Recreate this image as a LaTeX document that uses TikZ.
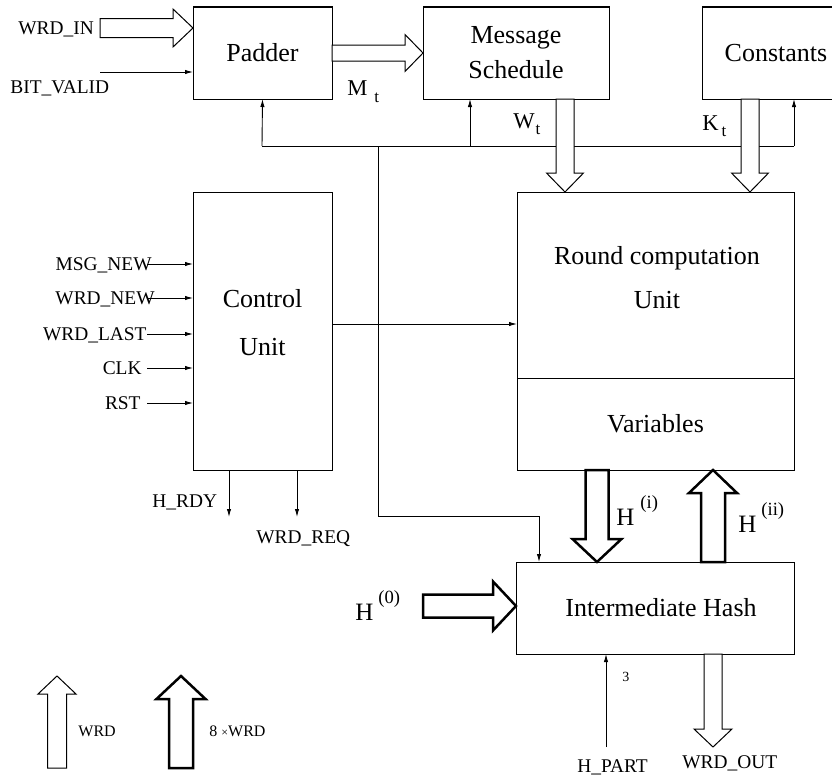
\documentclass[tikz,border=0pt]{standalone}
\usepackage{fontspec}
\setmainfont{Liberation Serif}
\usepackage{tikz}
\usetikzlibrary{arrows.meta,calc,positioning}
\tikzstyle{blk} = [draw, line width=0.5pt, rectangle, inner sep=0, outer sep=0]
\tikzstyle{big} = [font=\fontsize{13}{17.5}\selectfont]
\tikzstyle{sml} = [font=\fontsize{9.7}{11}\selectfont, inner sep=0]
\tikzstyle{lbl} = [font=\fontsize{11.3}{13}\selectfont, inner sep=0, anchor=base west]
\tikzstyle{hlbl} = [font=\fontsize{12.5}{14}\selectfont, inner sep=0, anchor=base west]
\tikzstyle{sig} = [line width=0.45pt, -{Latex[length=4pt,width=2.2pt]}]
\tikzstyle{bus} = [draw, fill=white, line width=0.5pt, line join=miter]
\tikzstyle{wbus} = [draw, fill=white, line width=1.25pt, line join=miter]
\newcommand{\vbus}[6]{%
  \draw[#1] let \p1=(#2), \p2=(#3), \p3=($(#3)!#6!(#2)$) in
    (\x1-#4,\y1) -- (\x1-#4,\y3) -- (\x1-#5,\y3) -- (\x1,\y2)
    -- (\x1+#5,\y3) -- (\x1+#4,\y3) -- (\x1+#4,\y1) -- cycle;}
\newcommand{\hbus}[6]{%
  \draw[#1] let \p1=(#2), \p2=(#3), \p3=($(#3)!#6!(#2)$) in
    (\x1,\y1+#4) -- (\x3,\y1+#4) -- (\x3,\y1+#5) -- (\x2,\y1)
    -- (\x3,\y1-#5) -- (\x3,\y1-#4) -- (\x1,\y1-#4) -- cycle;}
\newcommand{\lowidx}[2]{\hspace{#1}\raisebox{-3pt}{\fontsize{8.5}{9}\selectfont #2}}
\newcommand{\upidx}[2]{\hspace{#1}\raisebox{8.5pt}{\fontsize{9.3}{10}\selectfont #2}}

\begin{document}
\begin{tikzpicture}[x=0.5pt,y=-0.5pt]
\useasboundingbox (0,0) rectangle (832,776);

\node[blk, big, minimum width=69.5pt, minimum height=46pt] (padder) at (262.5,53) {Padder};
\node[blk, big, align=center, minimum width=93pt, minimum height=46pt] (msched) at (516,53) {Message\\Schedule};
\node[blk, big, minimum width=74pt, minimum height=46pt] (const) at (776,53) {Constants};
\node[blk, minimum width=69.5pt, minimum height=139pt] (ctrl) at (262.5,331) {};
\node[big, align=center, font=\fontsize{13}{24}\selectfont] (ctrltxt) at (262.5,323) {Control\\Unit};
\node[blk, minimum width=138.5pt, minimum height=93pt] (roundu) at (655.5,285) {};
\node[big, align=center, font=\fontsize{13}{22}\selectfont] (roundtxt) at (657,278) {Round computation\\Unit};
\node[blk, big, minimum width=138.5pt, minimum height=46pt, below=0pt of roundu] (vars) {Variables};
\node[blk, big, minimum width=139pt, minimum height=46pt] (ihash) at (655,608) {\hspace{6pt}Intermediate Hash};

\coordinate (busl) at (262,146);
\coordinate (busm) at (470,146);
\coordinate (busc) at (378,146);
\coordinate (busr) at (794,146);
\coordinate (ctl) at (539,516);
\draw[line width=0.45pt] (busl) -- (busr);
\draw[sig] (busl) -- (padder.south);
\draw[sig] (busm) -- (busm |- msched.south);
\draw[sig] (busr) -- (busr |- const.south);
\draw[sig] (busc) |- (ctl) -- (ctl |- ihash.north);
\draw[sig] ([yshift=3.5pt]ctrl.east) -- ([yshift=3.5pt]ctrl.east -| roundu.west);

\coordinate (wi) at (100,28);
\coordinate (bv) at (100,72);
\hbus{bus}{wi}{wi -| padder.west}{4.75pt}{9.5pt}{10pt}
\draw[sig] (bv) -- (bv -| padder.west);
\node[sml, anchor=base west] (wrdin) at (18,34.5) {WRD\_IN};
\node[sml, anchor=base west] (bitvalid) at (10,93.5) {BIT\_VALID};
\hbus{bus}{padder.east}{msched.west}{4pt}{9.25pt}{9pt}
\node[lbl] (mt) at (347,96) {M\lowidx{3.5pt}{t}};

\coordinate (wt) at (565,99);
\coordinate (kt) at (750,99);
\vbus{bus}{wt}{wt |- roundu.north}{4.5pt}{9.25pt}{9.5pt}
\vbus{bus}{kt}{kt |- roundu.north}{4.5pt}{9.25pt}{9.5pt}
\node[lbl] (wtl) at (513,128) {W\lowidx{0.5pt}{t}};
\node[lbl] (ktl) at (702,130) {K\lowidx{1.5pt}{t}};

\foreach \yy/\txt/\xe [count=\i] in {264/MSG\_NEW/152, 298/WRD\_NEW/155, 334/WRD\_LAST/147, 368/CLK/142, 403/RST/141} {
  \node[sml, anchor=base east] (in\i) at (\xe,\yy+6) {\txt};
  \coordinate (s\i) at (147,\yy);
  \draw[sig] (s\i) -- (s\i -| ctrl.west);
}

\coordinate (hrdy) at (229,517);
\coordinate (wreq) at (297,517);
\draw[sig] (ctrl.south -| hrdy) -- (hrdy);
\draw[sig] (ctrl.south -| wreq) -- (wreq);
\node[sml, anchor=base west] (hrdyl) at (152,507.5) {H\_RDY};
\node[sml, anchor=base west] (wreql) at (256,543.5) {WRD\_REQ};

\coordinate (hi) at (597,470);
\coordinate (hii) at (713,562);
\coordinate (h0) at (423,606);
\vbus{wbus}{hi}{hi |- ihash.north}{5.75pt}{12.25pt}{11.5pt}
\vbus{wbus}{hii}{hii |- vars.south}{6pt}{12pt}{11.5pt}
\hbus{wbus}{h0}{h0 -| ihash.west}{5.75pt}{12.25pt}{11.5pt}
\node[hlbl] (hil) at (616,525) {H\upidx{3pt}{(i)}};
\node[hlbl] (hiil) at (738,532) {H\upidx{2.5pt}{(ii)}};
\node[hlbl] (h0l) at (355,620) {H\upidx{2.5pt}{(0)}};

\coordinate (hp) at (606,747);
\coordinate (wo) at (713,747);
\draw[sig] (hp) -- (hp |- ihash.south);
\node[sml, anchor=base west, font=\fontsize{7}{8}\selectfont] (three) at (622,681) {3};
\node[sml, anchor=base west] (hpart) at (577,772) {H\_PART};
\vbus{bus}{ihash.south -| wo}{wo}{4.5pt}{9.5pt}{9pt}
\node[sml, anchor=base west] (wrdout) at (682,768) {WRD\_OUT};

\coordinate (lg1) at (57,768);
\coordinate (lg2) at (181,768);
\vbus{bus}{lg1}{57,676}{4.75pt}{9.5pt}{9pt}
\vbus{wbus}{lg2}{181,676}{6pt}{12.25pt}{11.5pt}
\node[sml, anchor=base west, font=\fontsize{8}{9}\selectfont] (wrdl) at (78,736) {WRD};
\node[sml, anchor=base west, font=\fontsize{8}{9}\selectfont] (wrd8l) at (209,736) {8 {\fontsize{6}{7}\selectfont ×}WRD};
\end{tikzpicture}
\end{document}
